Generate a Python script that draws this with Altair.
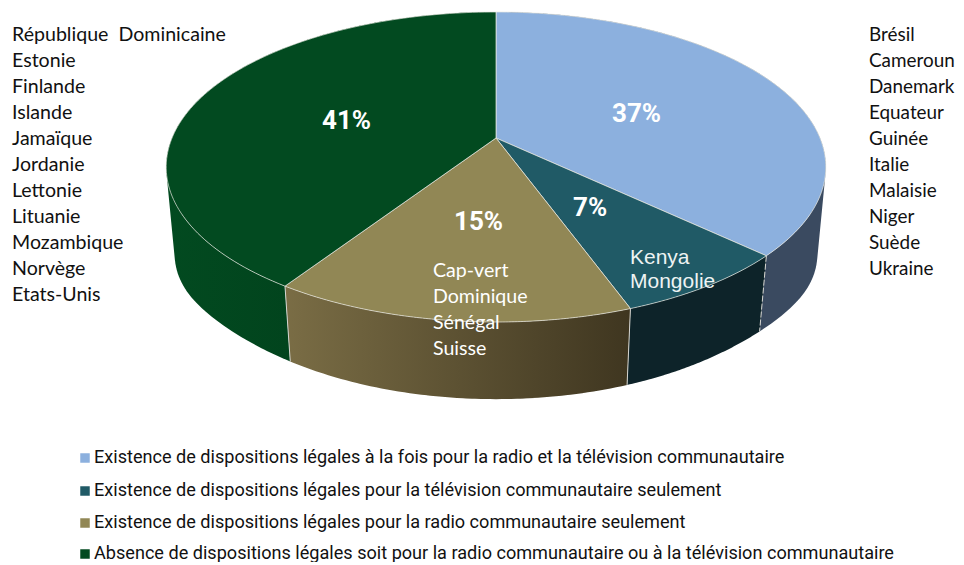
import math
import altair as alt
import pandas as pd

counts = [10, 2, 4, 11]
percent_labels = ["37%", "7%", "15%", "41%"]
legend_labels = [
    "Existence de dispositions légales à la fois pour la radio et la télévision communautaire",
    "Existence de dispositions légales pour la télévision communautaire seulement",
    "Existence de dispositions légales pour la radio communautaire seulement",
    "Absence de dispositions légales soit pour la radio communautaire ou à la télévision communautaire",
]
left_countries = ["République\u00a0 Dominicaine", "Estonie", "Finlande", "Islande", "Jamaïque", "Jordanie",
                  "Lettonie", "Lituanie", "Mozambique", "Norvège", "Etats-Unis"]
right_countries = ["Brésil", "Cameroun", "Danemark", "Equateur", "Guinée", "Italie", "Malaisie",
                   "Niger", "Suède", "Ukraine"]
tan_countries = ["Cap-vert", "Dominique", "Sénégal", "Suisse"]
teal_countries = ["Kenya", "Mongolie"]

top_colors = ["#8cb0de", "#205a66", "#918755", "#024a20"]
side_fills = [
    "#3a4a60",
    "#0d2329",
    alt.Gradient(gradient="linear", x1=0, x2=1, y1=0, y2=0,
                 stops=[alt.GradientStop(color="#7a6d45", offset=0), alt.GradientStop(color="#3f3620", offset=1)]),
    alt.Gradient(gradient="linear", x1=0, x2=1, y1=0, y2=0,
                 stops=[alt.GradientStop(color="#024a20", offset=0), alt.GradientStop(color="#003a18", offset=1)]),
]

M = 8
CX, CY, R, A, C = 496, 138, 324, 149.6, 0.187


def rim(frac):
    t = 2 * math.pi * frac
    u, v = math.sin(t), math.cos(t)
    k = 1 + C * v
    return CX + R * u / k, CY - A * v / k


def lower(pt):
    x, y = pt
    s = min(abs(x - CX) / 330, 1)
    return CX + 0.975 * (x - CX), y + 67 + 0.055 * (y - CY) + 16 * s ** 10


def page(pts):
    return [[x - M, y - M] for x, y in pts]


def arc(a, b, n=120):
    return [rim(a + (b - a) * i / n) for i in range(n + 1)]


def oriented(ring):
    area = sum(p[0] * q[1] - q[0] * p[1] for p, q in zip(ring[:-1], ring[1:]))
    return ring if area >= 0 else ring[::-1]


def shape(geom_type, coords, fill=None, stroke=None, width=0.0, dash=None):
    kw = {"fill": fill if fill is not None else "transparent",
          "stroke": stroke if stroke else "transparent", "strokeWidth": width}
    if dash:
        kw["strokeDash"] = dash
    geom = {"type": "Feature", "properties": {},
            "geometry": {"type": geom_type, "coordinates": coords}}
    return alt.Chart(alt.Data(values=[geom])).mark_geoshape(**kw).project(
        type="identity", scale=1, translate=[0, 0])


total = sum(counts)
bounds = [0]
for c in counts:
    bounds.append(bounds[-1] + c / total)

layers = []
for i, (a, b) in enumerate(zip(bounds[:-1], bounds[1:])):
    top = arc(a, b)
    quads = []
    for j in range(len(top) - 1):
        j2 = min(j + 2, len(top) - 1)
        p, q = top[j], top[j2]
        quads.append([oriented(page([p, q, lower(q), lower(p), p]))])
    layers.append(shape("MultiPolygon", quads, fill=side_fills[i]))
for i, (a, b) in enumerate(zip(bounds[:-1], bounds[1:])):
    ring = [(CX, CY)] + arc(a, b) + [(CX, CY)]
    layers.append(shape("Polygon", [page(ring)], fill=top_colors[i], stroke="#e9e9e2", width=0.7))
for i, f in enumerate(bounds[1:4]):
    p = rim(f)
    layers.append(shape("LineString", page([p, lower(p)]), stroke="#d5d5d0", width=1,
                        dash=[6, 2] if i == 0 else None))


def texts(rows, font, size, color, weight="normal"):
    df = pd.DataFrame(rows, columns=["t", "x", "y"])
    df["x"] -= M
    df["y"] -= M
    return alt.Chart(df).mark_text(font=font, fontSize=size, color=color, fontWeight=weight,
                                   align="left", baseline="middle").encode(
        x=alt.X("x:Q", scale=None), y=alt.Y("y:Q", scale=None), text="t:N")


layers.append(texts([(s, 12, 35 + 26 * i) for i, s in enumerate(left_countries)], "Lato", 19.6, "#111111"))
layers.append(texts([(s, 869, 35 + 26 * i) for i, s in enumerate(right_countries)], "Lato", 18.9, "#111111"))
layers.append(texts([(s, 433, 271 + 26 * i) for i, s in enumerate(tan_countries)], "Lato", 19.6, "#ffffff"))
layers.append(texts([(s, 630, 258 + 24 * i) for i, s in enumerate(teal_countries)],
                    "Liberation Sans", 21, "#eef3f3"))

pct_pos = [(612, 114), (573, 208), (454, 222), (322, 121)]
layers.append(texts([(s, x, y) for s, (x, y) in zip(percent_labels, pct_pos)],
                    "Roboto", 26, "#ffffff", "bold"))

leg_y = [458, 491, 523, 554]
legend_colors = ["#8cb0de", "#205a66", "#918755", "#024a20"]
layers.append(texts([(s, 94, y) for s, y in zip(legend_labels, leg_y)],
                    "Roboto", 18.1, "#111111"))
sq = pd.DataFrame({"x": [85 - M] * 4, "y": [y - M for y in leg_y], "c": legend_colors})
layers.append(alt.Chart(sq).mark_square(size=90, opacity=1).encode(
    x=alt.X("x:Q", scale=None), y=alt.Y("y:Q", scale=None),
    color=alt.Color("c:N", scale=None)))

chart = alt.layer(*layers).properties(
    width=948, height=554, padding=0, autosize=alt.AutoSizeParams(type="none"), background="#ffffff"
).configure_view(stroke=None)

chart.save("out.html", embed_options={"renderer": "svg", "actions": False})
